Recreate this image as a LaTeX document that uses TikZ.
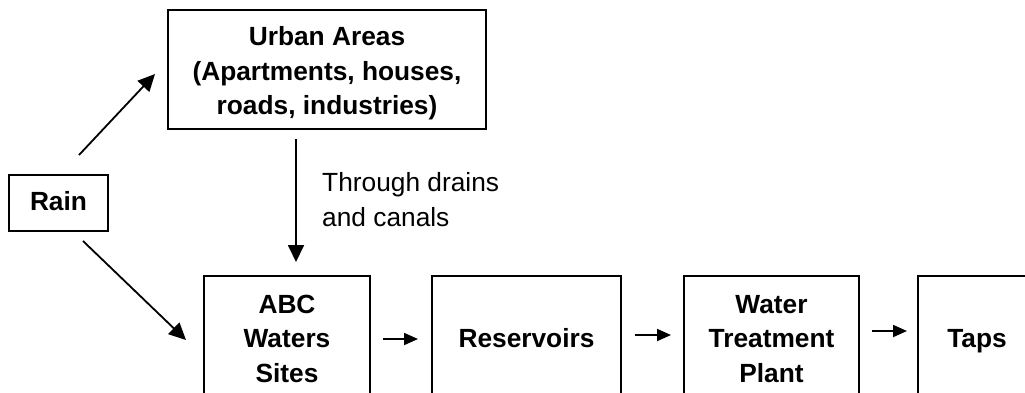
\documentclass[tikz,border=0pt]{standalone}
\usepackage{fontspec}
\setmainfont{Liberation Sans}
\usetikzlibrary{arrows.meta}
\tikzset{
  box/.style={draw=black, line width=1.3pt, inner sep=0pt, align=center,
    font=\fontsize{26.3}{34.5}\selectfont\bfseries},
  bigarrow/.style={line width=1.8pt, -{Triangle[length=17pt,width=16pt]}},
  smallarrow/.style={line width=1.8pt, -{Triangle[length=14pt,width=12pt]}},
  lbl/.style={align=left, inner sep=0pt, font=\fontsize{26.3}{35}\selectfont}
}
\begin{document}
\begin{tikzpicture}[x=1pt,y=-1pt]
\clip (0,0) rectangle (1025,392);
\fill[white] (0,0) rectangle (1025,392);
\node[box, minimum width=318pt, minimum height=119pt, text height=91pt, text depth=0.6pt] (urban) at (327,69.5) {Urban Areas\\(Apartments, houses,\\roads, industries)};
\node[box, minimum width=99pt, minimum height=56pt, text height=20pt, text depth=5.2pt] (rain) at (58.5,203) {Rain};
\node[box, minimum width=166pt, minimum height=124pt, text height=90pt, text depth=1.2pt] (abc) at (287,338) {ABC\\Waters\\Sites};
\node[box, minimum width=189pt, minimum height=124pt, text height=20pt, text depth=1.2pt] (res) at (526.5,338) {Reservoirs};
\node[box, minimum width=175pt, minimum height=124pt, text height=90pt, text depth=1.2pt] (wtp) at (771.5,338) {Water\\Treatment\\Plant};
\node[box, minimum width=118pt, minimum height=124pt, text height=20pt, text depth=1.2pt] (taps) at (977,338) {Taps};
\node[lbl, anchor=west] (thr) at (322,200) {Through drains\\and canals};
\coordinate (a1s) at (79,155);
\coordinate (a1e) at (155,74);
\coordinate (a2s) at (83,241);
\coordinate (a2e) at (186,340);
\coordinate (a3s) at (296,139);
\coordinate (a3e) at (296,262);
\coordinate (a4s) at (383,339);
\coordinate (a4e) at (418,339);
\coordinate (a5s) at (635,335);
\coordinate (a5e) at (671,335);
\coordinate (a6s) at (872,331);
\coordinate (a6e) at (907,331);
\draw[bigarrow] (a1s) -- (a1e);
\draw[bigarrow] (a2s) -- (a2e);
\draw[bigarrow] (a3s) -- (a3e);
\draw[smallarrow] (a4s) -- (a4e);
\draw[smallarrow] (a5s) -- (a5e);
\draw[smallarrow] (a6s) -- (a6e);
\end{tikzpicture}
\end{document}
